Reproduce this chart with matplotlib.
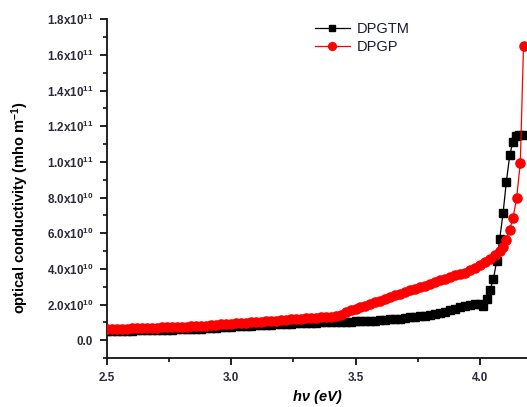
import matplotlib
matplotlib.use("Agg")
import matplotlib.pyplot as plt
from matplotlib.ticker import MultipleLocator, FixedLocator

plt.rcParams["font.family"] = ["Liberation Sans", "DejaVu Sans"]
plt.rcParams["mathtext.fontset"] = "custom"
plt.rcParams["mathtext.rm"] = "Liberation Sans:bold"
plt.rcParams["mathtext.bf"] = "Liberation Sans:bold"
plt.rcParams["mathtext.it"] = "Liberation Sans:bold:italic"

# ── Data (photon energy in eV, conductivity in units of 1e10 mho/m) ──
hv_tm = [2.50, 2.52, 2.54, 2.56, 2.58, 2.60, 2.62, 2.64, 2.66, 2.68,
         2.70, 2.72, 2.74, 2.76, 2.78, 2.80, 2.82, 2.84, 2.86, 2.88,
         2.90, 2.92, 2.94, 2.96, 2.98, 3.00, 3.02, 3.04, 3.06, 3.08,
         3.10, 3.12, 3.14, 3.16, 3.18, 3.20, 3.22, 3.24, 3.26, 3.28,
         3.30, 3.32, 3.34, 3.36, 3.38, 3.40, 3.42, 3.44, 3.46, 3.48,
         3.50, 3.52, 3.54, 3.56, 3.58, 3.60, 3.62, 3.64, 3.66, 3.68,
         3.70, 3.72, 3.74, 3.76, 3.78, 3.80, 3.82, 3.84, 3.86, 3.88,
         3.90, 3.92, 3.94, 3.96, 3.98, 4.00, 4.012,
         4.029, 4.041, 4.055, 4.068, 4.080, 4.094, 4.107, 4.121, 4.133,
         4.145, 4.159, 4.173]
sig_tm = [0.52, 0.52, 0.53, 0.54, 0.54, 0.55, 0.56, 0.56, 0.57, 0.58,
          0.58, 0.59, 0.60, 0.60, 0.61, 0.62, 0.63, 0.64, 0.65, 0.66,
          0.68, 0.69, 0.71, 0.73, 0.75, 0.77, 0.78, 0.79, 0.81, 0.82,
          0.84, 0.85, 0.87, 0.88, 0.90, 0.91, 0.92, 0.94, 0.95, 0.96,
          0.97, 0.98, 0.99, 1.00, 1.00, 1.01, 1.02, 1.03, 1.04, 1.05,
          1.06, 1.07, 1.08, 1.10, 1.11, 1.13, 1.15, 1.17, 1.19, 1.22,
          1.25, 1.28, 1.31, 1.35, 1.39, 1.43, 1.48, 1.53, 1.60, 1.68,
          1.76, 1.84, 1.92, 2.00, 2.06, 2.02, 1.95,
          2.30, 2.80, 3.45, 4.45, 5.66, 7.16, 8.90, 10.4, 11.1,
          11.45, 11.5, 11.5]

hv_gp = [2.50, 2.52, 2.54, 2.56, 2.58, 2.60, 2.62, 2.64, 2.66, 2.68,
         2.70, 2.72, 2.74, 2.76, 2.78, 2.80, 2.82, 2.84, 2.86, 2.88,
         2.90, 2.92, 2.94, 2.96, 2.98, 3.00, 3.02, 3.04, 3.06, 3.08,
         3.10, 3.12, 3.14, 3.16, 3.18, 3.20, 3.22, 3.24, 3.26, 3.28,
         3.30, 3.32, 3.34, 3.36, 3.38, 3.40, 3.42, 3.44, 3.46, 3.48,
         3.50, 3.52, 3.54, 3.56, 3.58, 3.60, 3.62, 3.64, 3.66, 3.68,
         3.70, 3.72, 3.74, 3.76, 3.78, 3.80, 3.82, 3.84, 3.86, 3.88,
         3.90, 3.92, 3.94, 3.96, 3.98, 4.00, 4.02, 4.04, 4.06, 4.08,
         4.093, 4.107, 4.120, 4.134, 4.148, 4.163, 4.176]
sig_gp = [0.64, 0.64, 0.65, 0.66, 0.66, 0.67, 0.68, 0.68, 0.69, 0.70,
          0.71, 0.72, 0.72, 0.73, 0.74, 0.76, 0.77, 0.78, 0.80, 0.81,
          0.83, 0.85, 0.87, 0.89, 0.91, 0.93, 0.95, 0.97, 0.99, 1.01,
          1.03, 1.05, 1.07, 1.09, 1.11, 1.13, 1.15, 1.17, 1.19, 1.21,
          1.23, 1.25, 1.27, 1.29, 1.31, 1.33, 1.36, 1.40, 1.60, 1.68,
          1.76, 1.84, 1.92, 2.02, 2.12, 2.22, 2.32, 2.42, 2.52, 2.62,
          2.72, 2.82, 2.90, 2.98, 3.07, 3.16, 3.26, 3.36, 3.46, 3.56,
          3.64, 3.72, 3.80, 3.92, 4.06, 4.20, 4.38, 4.56, 4.76, 5.00,
          5.25, 5.64, 6.18, 6.88, 7.95, 9.93, 16.5]

ytick_vals = [0, 2, 4, 6, 8, 10, 12, 14, 16, 18]
ytick_labels = ["0.0", r"2.0x10$^{10}$", r"4.0x10$^{10}$", r"6.0x10$^{10}$",
                r"8.0x10$^{10}$", r"1.0x10$^{11}$", r"1.2x10$^{11}$",
                r"1.4x10$^{11}$", r"1.6x10$^{11}$", r"1.8x10$^{11}$"]
xtick_vals = [2.5, 3.0, 3.5, 4.0]

# ── Plot ──────────────────────────────────────────────────────────────
fig = plt.figure(figsize=(5.27, 4.07), dpi=100)
ax = fig.add_axes([0.203, 0.120, 0.797, 0.833])

ax.plot(hv_tm, sig_tm, color="black", marker="s", markersize=5.8,
        linewidth=0.9, label="DPGTM", zorder=2)
ax.plot(hv_gp, sig_gp, color="red", marker="o", markersize=6.6,
        linewidth=0.9, label="DPGP", zorder=3)

ax.set_xlim(2.5, 4.19)
ax.set_ylim(-1, 18)

for side in ["top", "right"]:
    ax.spines[side].set_visible(False)
for side in ["left", "bottom"]:
    ax.spines[side].set_linewidth(1.3)
    ax.spines[side].set_color("#111111")

ax.yaxis.set_major_locator(FixedLocator(ytick_vals))
ax.yaxis.set_minor_locator(MultipleLocator(1))
ax.set_yticklabels(ytick_labels)
ax.xaxis.set_major_locator(FixedLocator(xtick_vals))
ax.xaxis.set_minor_locator(MultipleLocator(0.25))
ax.set_xticklabels([f"{v:.1f}" for v in xtick_vals])

ax.tick_params(which="major", length=5, width=1.3, colors="#111111",
               labelsize=8.4, labelcolor="#2a2a3a", pad=5)
ax.tick_params(which="minor", length=3, width=1.2, colors="#111111")
for lab in ax.get_xticklabels() + ax.get_yticklabels():
    lab.set_fontweight("bold")

ax.set_ylabel(r"optical conductivity (mho m$^{-1}$)", fontsize=10.5,
              fontweight="bold")
ax.yaxis.set_label_coords(-0.18, 0.445)
ax.set_xlabel("hν (eV)", fontsize=10.5, fontweight="bold",
              fontstyle="italic")
ax.xaxis.set_label_coords(0.5, -0.095)

ax.legend(loc="upper left", bbox_to_anchor=(0.472, 1.02), frameon=False,
          fontsize=10.5, handlelength=2.4, handletextpad=0.45,
          labelspacing=0.3, borderaxespad=0.25, labelcolor="#1a1a3a",
          markerscale=0.85)

fig.savefig("out.png", dpi=100, facecolor="white")
